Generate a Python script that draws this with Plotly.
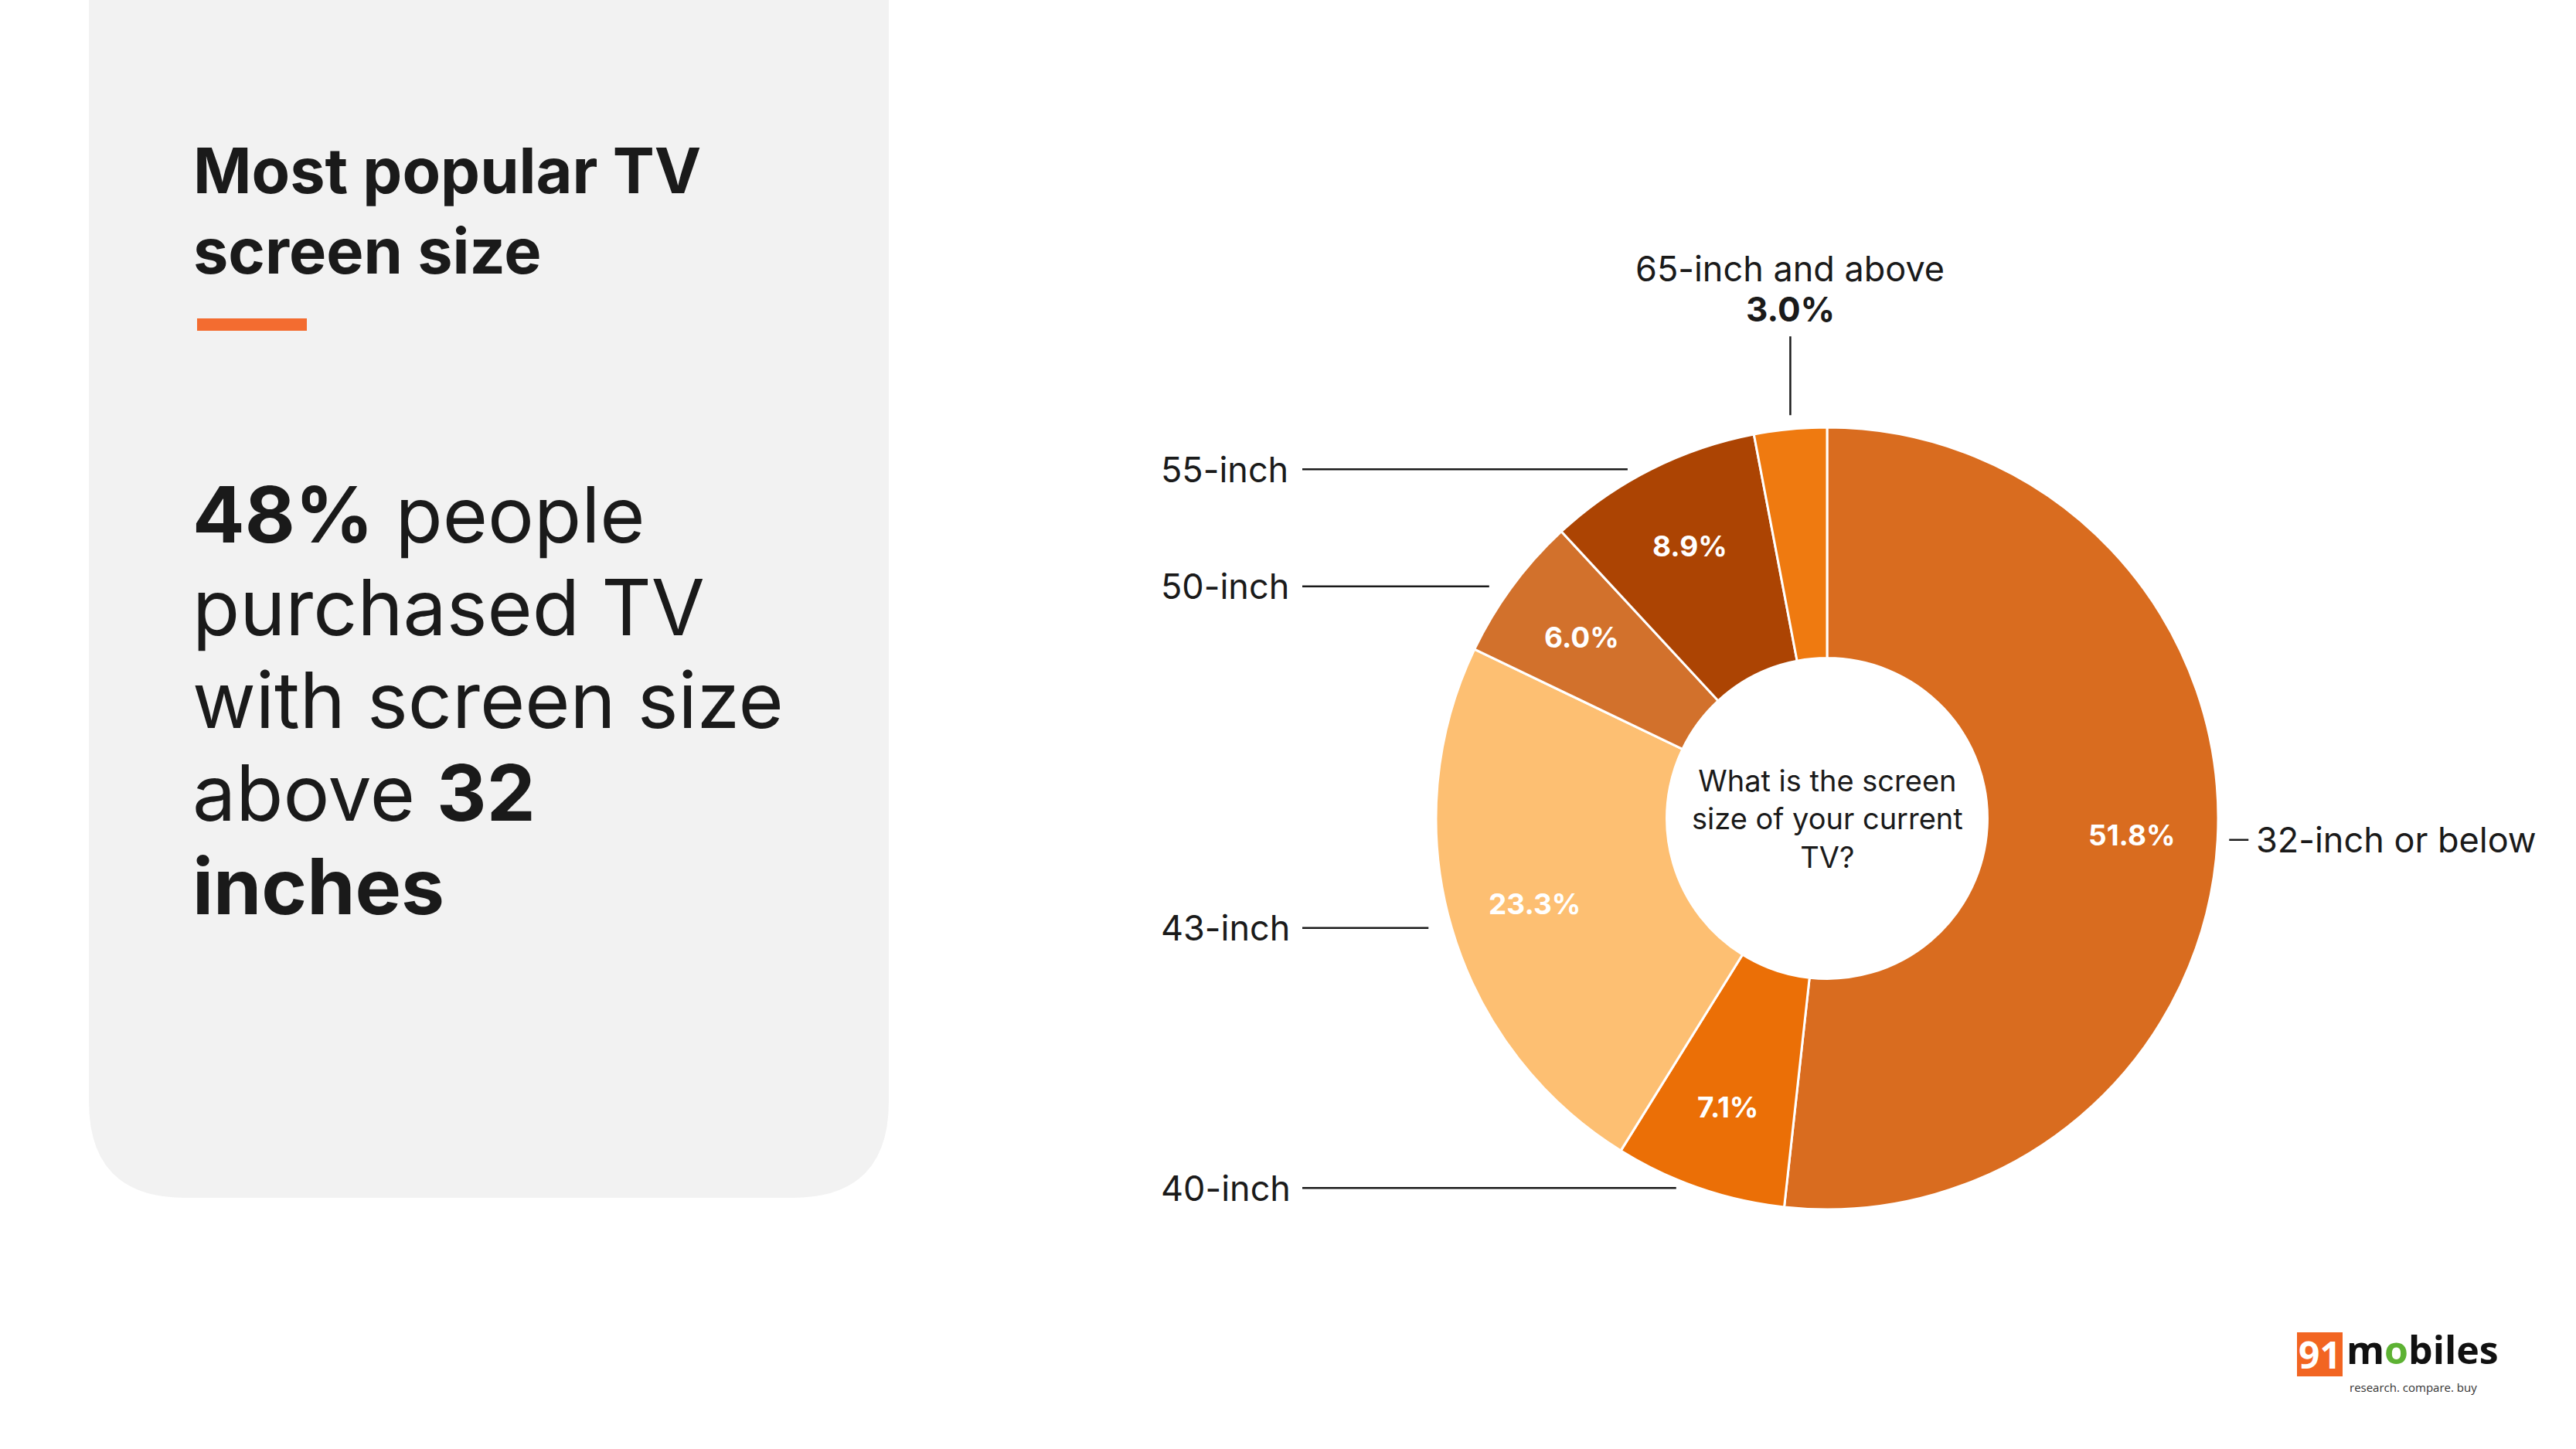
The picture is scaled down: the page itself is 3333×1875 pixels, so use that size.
import math
import plotly.graph_objects as go

# ---------------- data ----------------
categories = ["32-inch or below", "40-inch", "43-inch", "50-inch", "55-inch", "65-inch and above"]
shares = [51.8, 7.1, 23.3, 6.0, 8.9, 3.0]
slice_colors = ["#D96C1F", "#EB6F06", "#FDBF72", "#D2712C", "#AC4403", "#EF7A10"]
center_question = "What is the screen<br>size of your current<br>TV?"
title_lines = ["Most popular TV", "screen size"]

# ---------------- layout constants (pixels) ----------------
W, H = 3333, 1875
CX, CY, R = 2364, 1059, 506
HOLE = 0.41
FONT = "Inter"
DARK = "#1a1a1a"


def px(x):
    return x / W


def py(y):
    return 1 - y / H


def P(x, y):
    return f"{px(x):.6f},{py(y):.6f}"


fig = go.Figure()
fig.add_trace(go.Pie(
    labels=categories, values=shares, sort=False, direction="clockwise", rotation=0,
    hole=HOLE, textinfo="none", hoverinfo="label+value", showlegend=False,
    marker=dict(colors=slice_colors, line=dict(color="white", width=3)),
    domain=dict(x=[px(CX - R), px(CX + R)], y=[py(CY + R), py(CY - R)]),
))

shapes = []
annotations = []

# left grey panel with rounded bottom corners
L, Rt, B, rr = 115, 1150, 1550, 125
path = (f"M {P(L, -5)} L {P(Rt, -5)} L {P(Rt, B - rr)} Q {P(Rt, B)} {P(Rt - rr, B)} "
        f"L {P(L + rr, B)} Q {P(L, B)} {P(L, B - rr)} Z")
shapes.append(dict(type="path", path=path, xref="paper", yref="paper",
                   fillcolor="#F2F2F2", line=dict(width=0), layer="below"))

# title
for i, t in enumerate(title_lines):
    annotations.append(dict(text=f"<b>{t}</b>", x=px(248), y=py(221 + i * 104), xref="paper", yref="paper",
                            xanchor="left", yanchor="middle", showarrow=False,
                            font=dict(family=FONT, size=81, color=DARK, weight=800)))
# orange accent bar
shapes.append(dict(type="rect", x0=px(255), x1=px(397), y0=py(428), y1=py(412), xref="paper", yref="paper",
                   fillcolor="#F36C30", line=dict(width=0)))

# headline statement
above = round(100 - shares[0])
big_lines = [f"<b>{above}%</b> people", "purchased TV", "with screen size", "above <b>32</b>", "<b>inches</b>"]
for i, t in enumerate(big_lines):
    annotations.append(dict(text=t, x=px(247), y=py(665 + i * 120.3), xref="paper", yref="paper",
                            xanchor="left", yanchor="middle", showarrow=False,
                            font=dict(family=FONT, size=100, color=DARK)))

# center question
annotations.append(dict(text=center_question, x=px(CX), y=py(CY), xref="paper", yref="paper",
                        xanchor="center", yanchor="middle", showarrow=False, align="center",
                        font=dict(family=FONT, size=38, color=DARK)))

# slice labels
total = sum(shares)
cum = 0.0
LEFT_TEXT_X = 1500
LEFT_LINE_X = 1685
for cat, v in zip(categories, shares):
    mid = (cum + v / 2) / total * 2 * math.pi
    cum += v
    s, c = math.sin(mid), math.cos(mid)
    pct = f"{v:.1f}%"
    if v >= 5:
        rl = 0.78 * R
        annotations.append(dict(text=f"<b>{pct}</b>", x=px(CX + rl * s), y=py(CY - rl * c),
                                xref="paper", yref="paper", showarrow=False,
                                xanchor="center", yanchor="middle",
                                font=dict(family=FONT, size=37, color="white")))
    ax, ay = CX + R * s, CY - R * c
    if s < -0.3:  # left side label
        gap = 30
        shapes.append(dict(type="line", x0=px(LEFT_LINE_X), x1=px(ax - gap), y0=py(ay), y1=py(ay),
                           xref="paper", yref="paper", line=dict(color=DARK, width=2.5)))
        annotations.append(dict(text=cat, x=px(LEFT_TEXT_X), y=py(ay), xref="paper", yref="paper",
                                xanchor="left", yanchor="middle", showarrow=False,
                                font=dict(family=FONT, size=45, color=DARK)))
    elif s > 0.3:  # right side label
        shapes.append(dict(type="line", x0=px(ax + 15), x1=px(ax + 40), y0=py(ay), y1=py(ay),
                           xref="paper", yref="paper", line=dict(color=DARK, width=2.5)))
        annotations.append(dict(text=cat, x=px(ax + 48), y=py(ay), xref="paper", yref="paper",
                                xanchor="left", yanchor="middle", showarrow=False,
                                font=dict(family=FONT, size=45, color=DARK)))
    else:  # top label
        y_top = ay - 18 - 102
        shapes.append(dict(type="line", x0=px(ax), x1=px(ax), y0=py(ay - 18), y1=py(y_top),
                           xref="paper", yref="paper", line=dict(color=DARK, width=2.5)))
        annotations.append(dict(text=f"<b>{pct}</b>", x=px(ax), y=py(y_top - 35), xref="paper", yref="paper",
                                xanchor="center", yanchor="middle", showarrow=False,
                                font=dict(family=FONT, size=44, color=DARK)))
        annotations.append(dict(text=cat, x=px(ax), y=py(y_top - 88), xref="paper", yref="paper",
                                xanchor="center", yanchor="middle", showarrow=False,
                                font=dict(family=FONT, size=45, color=DARK)))

# 91mobiles logo
shapes.append(dict(type="rect", x0=px(2972), x1=px(3031), y0=py(1781), y1=py(1724), xref="paper", yref="paper",
                   fillcolor="#F26522", line=dict(width=0)))
annotations.append(dict(text="<b>91</b>", x=px(3001), y=py(1752), xref="paper", yref="paper",
                        xanchor="center", yanchor="middle", showarrow=False,
                        font=dict(family="Open Sans", size=48, color="white")))
annotations.append(dict(text="<b>m<span style='color:#5DB233'>o</span>biles</b>", x=px(3034), y=py(1746),
                        xref="paper", yref="paper", xanchor="left", yanchor="middle", showarrow=False,
                        font=dict(family="Open Sans", size=50, color="#111111")))
annotations.append(dict(text="research. compare. buy", x=px(3038), y=py(1795), xref="paper", yref="paper",
                        xanchor="left", yanchor="middle", showarrow=False,
                        font=dict(family="Open Sans", size=15, color="#333333")))

fig.update_layout(
    width=W, height=H, margin=dict(l=0, r=0, t=0, b=0),
    paper_bgcolor="white", plot_bgcolor="white",
    shapes=shapes, annotations=annotations, showlegend=False,
)

fig.write_html("out.html")
